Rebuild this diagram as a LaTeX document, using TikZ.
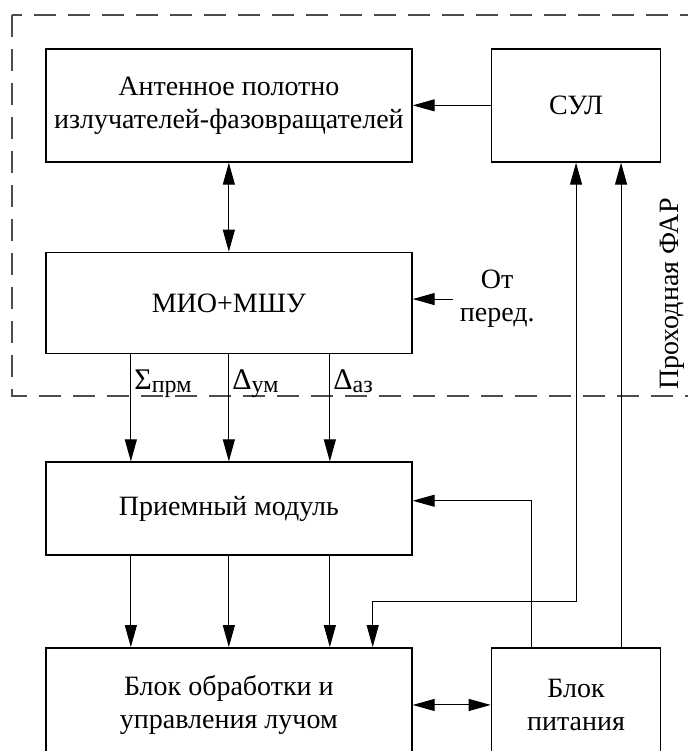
\documentclass[tikz,border=0pt]{standalone}
\usepackage{fontspec}
\setmainfont{Liberation Serif}
\usetikzlibrary{arrows.meta,positioning,calc}
\tikzset{every picture/.style={line width=0.5pt}}
\newcommand{\lsub}[1]{\raisebox{-1.5pt}{\fontsize{12pt}{12pt}\selectfont #1}}
\tikzset{
    block/.style={draw, line width=0.85pt, minimum width=183pt, minimum height=56.5pt, align=center, inner sep=0pt},
    conn/.style={-{Triangle[length=11pt,width=6pt]}},
    biconn/.style={{Triangle[length=11pt,width=6pt]}-{Triangle[length=11pt,width=6pt]}},
    frame/.style={draw=black!70, line width=0.65pt, dash pattern=on 11pt off 6pt},
    lbl/.style={anchor=base west, inner sep=1.5pt, font=\fontsize{15pt}{15pt}\selectfont},
}

\begin{document}
\begin{tikzpicture}[font=\fontsize{14pt}{16.5pt}\selectfont]
    \useasboundingbox (0,0) rectangle (344pt,-375.5pt);
    \draw[frame] (6pt,-7.5pt) rectangle (362pt,-198pt);
    \node[block, anchor=north west] (ant) at (22.5pt,-24pt) {Антенное полотно\\излучателей-фазовращателей};
    \node[block, minimum width=84.5pt, right=39pt of ant] (sul) {СУЛ};
    \node[block, minimum height=50.5pt, below=44.5pt of ant] (mio) {МИО+МШУ};
    \node[right=20pt of mio, yshift=2pt, align=center] (src) {От\\перед.};
    \node[block, minimum height=46.5pt, below=53.5pt of mio] (prm) {Приемный модуль};
    \node[block, minimum height=57pt, below=45.5pt of prm] (obr) {Блок обработки и\\управления лучом};
    \node[block, minimum width=84.5pt, minimum height=57pt, right=39pt of obr] (pit) {Блок\\питания};
    \node[rotate=90] (far) at (336pt,-147pt) {Проходная ФАР};
    \coordinate (mid) at ($(prm.south)!0.5!(obr.north)$);
    \draw[conn] (sul) -- (ant);
    \draw[biconn] (ant) -- (mio);
    \draw[conn] (src.west) -- (src.west -| mio.east);
    \draw[conn] ($(mio.south)+(-49pt,0)$) coordinate (m1) -- (m1 |- prm.north);
    \draw[conn] (mio.south) coordinate (m2) -- (m2 |- prm.north);
    \draw[conn] ($(mio.south)+(50.5pt,0)$) coordinate (m3) -- (m3 |- prm.north);
    \node[lbl] (lsum) at ($(m1)+(0,-17.5pt)$) {Σ\lsub{прм}};
    \node[lbl] (lum) at ($(m2)+(0,-17.5pt)$) {Δ\lsub{ум}};
    \node[lbl] (laz) at ($(m3)+(0,-17.5pt)$) {Δ\lsub{аз}};
    \draw[conn] (m1 |- prm.south) -- (m1 |- obr.north);
    \draw[conn] (m2 |- prm.south) -- (m2 |- obr.north);
    \draw[conn] (m3 |- prm.south) -- (m3 |- obr.north);
    \draw[biconn] (obr.north east) ++(-20pt,0) coordinate (o1) -- (o1 |- mid) -| (sul.south);
    \draw[conn] ($(pit.north)+(-22.5pt,0)$) |- ($(prm.east)+(0,4pt)$);
    \draw[conn] ($(pit.north)+(22.5pt,0)$) -- ($(sul.south)+(22.5pt,0)$);
    \draw[biconn] (obr) -- (pit);
\end{tikzpicture}
\end{document}
